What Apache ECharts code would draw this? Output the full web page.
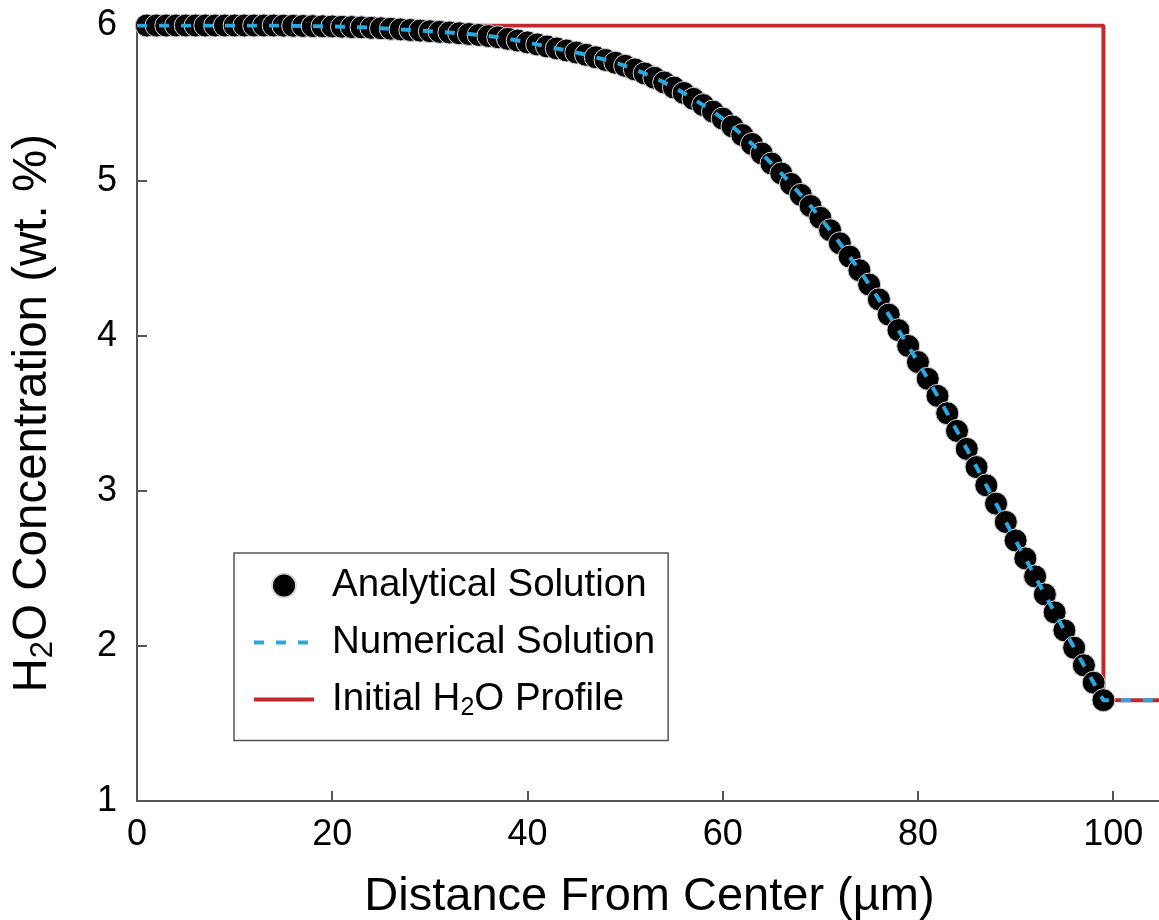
<!DOCTYPE html>
<html>
<head>
<meta charset="utf-8">
<script src="https://cdn.jsdelivr.net/npm/echarts@6/dist/echarts.min.js"></script>
<style>
  html, body { margin: 0; padding: 0; background: #ffffff; }
  #chart { width: 1159px; height: 920px; }
</style>
</head>
<body>
<div id="chart"></div>
<script>
// Radial distance (µm) of the analytical solution points
const distance = [
  1, 2, 3, 4, 5, 6, 7, 8, 9, 10, 11, 12, 13, 14, 15, 16, 17, 18, 19, 20,
  21, 22, 23, 24, 25, 26, 27, 28, 29, 30, 31, 32, 33, 34, 35, 36, 37, 38, 39, 40,
  41, 42, 43, 44, 45, 46, 47, 48, 49, 50, 51, 52, 53, 54, 55, 56, 57, 58, 59, 60,
  61, 62, 63, 64, 65, 66, 67, 68, 69, 70, 71, 72, 73, 74, 75, 76, 77, 78, 79, 80,
  81, 82, 83, 84, 85, 86, 87, 88, 89, 90, 91, 92, 93, 94, 95, 96, 97, 98, 99
];
// H2O concentration (wt. %) from the analytical solution
const analytical = [
  6.000, 6.000, 6.000, 6.000, 6.000, 6.000, 6.000, 6.000, 6.000, 6.000,
  6.000, 6.000, 6.000, 6.000, 5.999, 5.998, 5.997, 5.996, 5.995, 5.994,
  5.992, 5.990, 5.988, 5.985, 5.982, 5.979, 5.975, 5.971, 5.967, 5.963,
  5.959, 5.955, 5.950, 5.945, 5.939, 5.932, 5.924, 5.914, 5.903, 5.891,
  5.878, 5.865, 5.852, 5.839, 5.826, 5.811, 5.795, 5.778, 5.760, 5.740,
  5.717, 5.691, 5.663, 5.633, 5.600, 5.565, 5.527, 5.487, 5.445, 5.400,
  5.349, 5.294, 5.236, 5.175, 5.110, 5.046, 4.978, 4.908, 4.836, 4.760,
  4.680, 4.596, 4.510, 4.422, 4.330, 4.234, 4.136, 4.036, 3.934, 3.830,
  3.722, 3.612, 3.500, 3.386, 3.270, 3.153, 3.035, 2.917, 2.799, 2.680,
  2.564, 2.448, 2.332, 2.216, 2.100, 1.988, 1.875, 1.763, 1.650
];
// Numerical solution: centre value and the fixed boundary value outside the inclusion
const numericalCenter = [0, 6.000];
const outerDistance = [100, 101, 102, 103, 104, 105];
const outerValue = [1.650, 1.650, 1.650, 1.650, 1.650, 1.650];
// Initial step profile
const initialDistance = [0, 99, 99, 105];
const initialValue = [6.0, 6.0, 1.65, 1.65];
// Axis ticks
const xTicks = [0, 20, 40, 60, 80, 100];
const yTicks = [1, 2, 3, 4, 5, 6];

const FONT = '"Liberation Sans", Arial, Helvetica, sans-serif';
const RED = '#c1272d';
const BLUE = '#29a9e0';
const DASH = [10, 12];

const analyticalData = distance.map((d, i) => [d, analytical[i]]);
const numericalData = [numericalCenter]
  .concat(analyticalData)
  .concat(outerDistance.map((d, i) => [d, outerValue[i]]));
const initialData = initialDistance.map((d, i) => [d, initialValue[i]]);

const chart = echarts.init(document.getElementById('chart'), null, { renderer: 'canvas' });

const axisLine = { show: true, lineStyle: { color: '#555555', width: 2 } };
// line entries in the legend show only their stroke, no marker
const noMarker = { opacity: 0, borderWidth: 0 };

chart.setOption({
  animation: false,
  backgroundColor: '#ffffff',
  grid: {
    left: 137, right: -3, top: 25.5, bottom: 119,
    containLabel: false,
    outerBoundsMode: 'none'
  },
  legend: {
    orient: 'vertical',
    left: 234,
    top: 553,
    padding: [13, 13, 20, 18],
    itemGap: 18,
    itemWidth: 60,
    itemHeight: 24,
    backgroundColor: '#ffffff',
    borderColor: '#555555',
    borderWidth: 1.5,
    borderRadius: 0,
    data: [
      { name: 'Analytical Solution' },
      { name: 'Numerical Solution', itemStyle: noMarker, lineStyle: { color: BLUE, width: 4, type: DASH } },
      { name: 'Initial H2O Profile', itemStyle: noMarker, lineStyle: { color: RED, width: 4, type: 'solid' } }
    ],
    formatter: function (name) {
      if (name === 'Initial H2O Profile') {
        return '{n|Initial H}{s|2}{n|O Profile}';
      }
      return '{n|' + name + '}';
    },
    textStyle: {
      fontFamily: FONT,
      fontSize: 38.5,
      color: '#000000',
      padding: [0, 0, 0, 13],
      rich: {
        n: { fontFamily: FONT, fontSize: 38.5, color: '#000000', lineHeight: 42 },
        s: { fontFamily: FONT, fontSize: 25, color: '#000000', lineHeight: 8, verticalAlign: 'bottom' }
      }
    }
  },
  xAxis: {
    type: 'value',
    min: 0,
    max: 105,
    interval: 20,
    name: 'Distance From Center (µm)',
    nameLocation: 'middle',
    nameGap: 73,
    nameTextStyle: { fontFamily: FONT, fontSize: 47, color: '#000000' },
    axisLine: axisLine,
    axisTick: { show: true, inside: true, length: 10, customValues: xTicks, lineStyle: { color: '#555555', width: 2 } },
    axisLabel: { fontFamily: FONT, fontSize: 36, color: '#000000', margin: 16, customValues: xTicks },
    splitLine: { show: false }
  },
  yAxis: {
    type: 'value',
    min: 1,
    max: 6,
    interval: 1,
    name: '{a|H}{s|2}{a|O Concentration (wt. %)}',
    nameLocation: 'middle',
    nameGap: 78,
    nameTextStyle: {
      fontFamily: FONT,
      fontSize: 47.5,
      color: '#000000',
      rich: {
        a: { fontFamily: FONT, fontSize: 47.5, color: '#000000', lineHeight: 52 },
        s: { fontFamily: FONT, fontSize: 31, color: '#000000', lineHeight: 24, verticalAlign: 'bottom' }
      }
    },
    axisLine: axisLine,
    axisTick: { show: true, inside: true, length: 10, customValues: yTicks, lineStyle: { color: '#555555', width: 2 } },
    axisLabel: { fontFamily: FONT, fontSize: 36, color: '#000000', margin: 20, customValues: yTicks },
    splitLine: { show: false }
  },
  series: [
    {
      name: 'Initial H2O Profile',
      type: 'line',
      data: initialData,
      symbol: 'none',
      z: 1,
      lineStyle: { color: RED, width: 4 },
      itemStyle: { color: RED }
    },
    {
      name: 'Analytical Solution',
      type: 'scatter',
      data: analyticalData,
      symbol: 'circle',
      symbolSize: 23,
      z: 2,
      itemStyle: { color: '#000000', borderColor: '#d8d8d8', borderWidth: 1, opacity: 1 }
    },
    {
      name: 'Numerical Solution',
      type: 'line',
      data: numericalData,
      symbol: 'none',
      z: 3,
      lineStyle: { color: BLUE, width: 4, type: DASH },
      itemStyle: { color: BLUE }
    }
  ]
});
</script>
</body>
</html>
